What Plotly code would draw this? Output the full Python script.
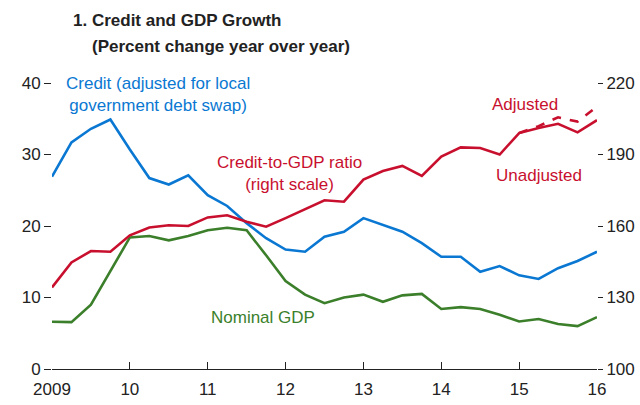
import plotly.graph_objects as go

# Quarterly observations (decimal year)
quarters = [2009.00, 2009.25, 2009.50, 2009.75, 2010.00, 2010.25, 2010.50, 2010.75,
            2011.00, 2011.25, 2011.50, 2011.75, 2012.00, 2012.25, 2012.50, 2012.75,
            2013.00, 2013.25, 2013.50, 2013.75, 2014.00, 2014.25, 2014.50, 2014.75,
            2015.00, 2015.25, 2015.50, 2015.75, 2016.00]

credit_growth = [26.9, 31.7, 33.6, 34.9, 30.7, 26.7, 25.8, 27.1,
                 24.3, 22.8, 20.4, 18.3, 16.7, 16.4, 18.5, 19.2,
                 21.1, 20.2, 19.2, 17.6, 15.7, 15.7, 13.6, 14.4,
                 13.1, 12.6, 14.1, 15.1, 16.4]

nominal_gdp = [6.6, 6.55, 9.0, 13.6, 18.4, 18.6, 18.0, 18.6,
               19.4, 19.75, 19.4, 15.9, 12.3, 10.4, 9.2, 10.0,
               10.4, 9.4, 10.3, 10.5, 8.4, 8.65, 8.4, 7.6,
               6.65, 7.0, 6.3, 6.0, 7.25]

ratio_unadjusted = [134.2, 144.7, 149.5, 149.2, 156.1, 159.4, 160.3, 160.0,
                    163.6, 164.5, 161.8, 159.7, 163.3, 167.2, 170.8, 170.2,
                    179.5, 183.1, 185.2, 181.0, 189.1, 193.0, 192.7, 190.0,
                    199.0, 201.1, 202.9, 199.3, 204.4]

ratio_adjusted = [None] * 24 + [199.0, 201.9, 205.6, 203.8, 210.1]

x_tickvals = [2009, 2010, 2011, 2012, 2013, 2014, 2015, 2016]
x_ticktext = ["2009", "10", "11", "12", "13", "14", "15", "16"]
left_ticks = [0, 10, 20, 30, 40]
right_ticks = [100, 130, 160, 190, 220]

BLUE = "#0a78d2"
RED = "#c8102e"
GREEN = "#3b7f2b"
FONT = "Liberation Sans, Arial, sans-serif"
TXT = "#222222"

L, R, T, B = 52, 43, 83, 36
W, H = 640, 405

fig = go.Figure()
fig.add_trace(go.Scatter(x=quarters, y=credit_growth, mode="lines",
                         line=dict(color=BLUE, width=2.6), yaxis="y"))
fig.add_trace(go.Scatter(x=quarters, y=nominal_gdp, mode="lines",
                         line=dict(color=GREEN, width=2.6), yaxis="y"))
fig.add_trace(go.Scatter(x=quarters, y=ratio_adjusted, mode="lines",
                         line=dict(color=RED, width=2.6, dash="dash"), yaxis="y2"))
fig.add_trace(go.Scatter(x=quarters, y=ratio_unadjusted, mode="lines",
                         line=dict(color=RED, width=2.6), yaxis="y2"))

fig.update_layout(
    width=W, height=H,
    margin=dict(l=L, r=R, t=T, b=B, autoexpand=False),
    paper_bgcolor="white", plot_bgcolor="white",
    showlegend=False,
    font=dict(family=FONT, size=17, color=TXT),
    xaxis=dict(range=[2009, 2016], tickvals=x_tickvals, ticktext=x_ticktext,
               ticks="inside", ticklen=7, tickcolor=TXT, tickwidth=1,
               showline=True, linecolor=TXT, linewidth=1,
               showgrid=False, zeroline=False, automargin=False,
               ticklabelstandoff=5, tickfont=dict(size=17)),
    yaxis=dict(range=[0, 40], tickvals=left_ticks, ticks="outside", ticklen=7,
               tickcolor=TXT, showgrid=False, zeroline=False, showline=False,
               automargin=False, tickfont=dict(size=17)),
    yaxis2=dict(range=[100, 220], tickvals=right_ticks, overlaying="y", side="right",
                ticks="outside", ticklen=5, tickcolor=TXT,
                showgrid=False, zeroline=False, showline=False,
                automargin=False, tickfont=dict(size=17)),
)

ann_size = 17
annotations = [
    dict(text="<b>1. Credit and GDP Growth</b>", x=71, y=20, xanchor="left", color=TXT),
    dict(text="<b>(Percent change year over year)</b>", x=90, y=46, xanchor="left", color=TXT),
    dict(text="Credit (adjusted for local<br>government debt swap)", x=158, y=94, color=BLUE),
    dict(text="Credit-to-GDP ratio<br>(right scale)", x=289, y=173, color=RED),
    dict(text="Adjusted", x=525, y=105, color=RED),
    dict(text="Unadjusted", x=539, y=175, color=RED),
    dict(text="Nominal GDP", x=263, y=317, color=GREEN),
]

for a in annotations:
    # convert pixel positions to paper coordinates
    px = (a["x"] - L) / (W - L - R)
    py = 1 - (a["y"] - T) / (H - T - B)
    fig.add_annotation(text=a["text"], x=px, y=py, xref="paper", yref="paper",
                       xanchor=a.get("xanchor", "center"), yanchor="middle",
                       showarrow=False, align="center",
                       font=dict(family=FONT, size=ann_size, color=a["color"]))

fig.write_html(
    "out.html",
    config={"displayModeBar": False},
    post_script="document.body.style.margin='0';document.body.style.padding='0';",
)
